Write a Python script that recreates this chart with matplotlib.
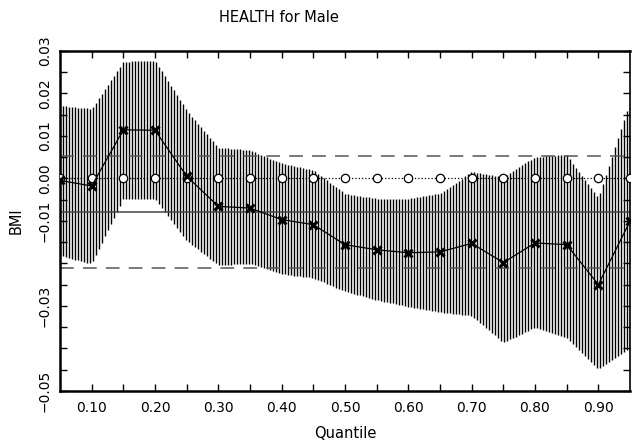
import numpy as np
import matplotlib
matplotlib.use("Agg")
import matplotlib.pyplot as plt
from matplotlib.ticker import FixedLocator

quantiles = [0.05, 0.10, 0.15, 0.20, 0.25, 0.30, 0.35, 0.40, 0.45, 0.50,
             0.55, 0.60, 0.65, 0.70, 0.75, 0.80, 0.85, 0.90, 0.95]
estimate = [-0.0005, -0.0018, 0.0114, 0.0113, 0.0005, -0.0066, -0.0070, -0.0097, -0.0109, -0.0156,
            -0.0168, -0.0175, -0.0173, -0.0153, -0.0198, -0.0152, -0.0156, -0.0250, -0.0101]
upper = [0.0171, 0.0163, 0.0274, 0.0277, 0.0160, 0.0072, 0.0066, 0.0035, 0.0019, -0.0036,
         -0.0048, -0.0048, -0.0036, 0.0015, 0.0003, 0.0050, 0.0055, -0.0047, 0.0180]
lower = [-0.0182, -0.0201, -0.0048, -0.0048, -0.0146, -0.0204, -0.0201, -0.0225, -0.0234, -0.0266,
         -0.0286, -0.0302, -0.0315, -0.0323, -0.0386, -0.0351, -0.0374, -0.0449, -0.0398]
zero_line = [0.0] * len(quantiles)
ols_estimate = -0.0079
ols_upper = 0.0053
ols_lower = -0.0211

xtick_values = [0.10, 0.20, 0.30, 0.40, 0.50, 0.60, 0.70, 0.80, 0.90]
xtick_labels = ["0.10", "0.20", "0.30", "0.40", "0.50", "0.60", "0.70", "0.80", "0.90"]
ytick_values = [0.03, 0.02, 0.01, 0.00, -0.01, -0.03, -0.05]
ytick_labels = ["0.03", "0.02", "0.01", "0.00", "\u22120.01", "\u22120.03", "\u22120.05"]

fig = plt.figure(figsize=(6.44, 4.41), dpi=100)
ax = fig.add_axes([60/644, 1 - 391/441, 570/644, (391 - 50.7)/441])

# hatched confidence band drawn as dense vertical lines
xs = np.linspace(quantiles[0], quantiles[-1], 191)
up_i = np.interp(xs, quantiles, upper)
lo_i = np.interp(xs, quantiles, lower)
ax.vlines(xs, lo_i, up_i, colors="black", linewidth=1.0, zorder=1)

ax.axhline(ols_estimate, color="#444444", linewidth=1.1, zorder=2)
ax.axhline(ols_upper, color="#555555", linewidth=1.1, linestyle=(0, (9, 6)), zorder=2)
ax.axhline(ols_lower, color="#555555", linewidth=1.1, linestyle=(0, (9, 6)), zorder=2)

ax.plot(quantiles, zero_line, linestyle=":", color="black", linewidth=0.9,
        marker="o", markersize=6, markerfacecolor="white", markeredgecolor="black",
        markeredgewidth=0.9, zorder=3)
ax.plot(quantiles, estimate, linestyle="-", color="black", linewidth=0.9,
        marker="x", markersize=6, markeredgewidth=2.2, zorder=4)

ax.set_xlim(0.05, 0.95)
ax.set_ylim(-0.05, 0.03)

ax.xaxis.set_major_locator(FixedLocator(xtick_values))
ax.set_xticklabels(xtick_labels)
ax.xaxis.set_minor_locator(FixedLocator([0.15, 0.25, 0.35, 0.45, 0.55, 0.65, 0.75, 0.85]))
ax.yaxis.set_major_locator(FixedLocator(ytick_values))
ax.set_yticklabels(ytick_labels, rotation=90, va="center")
ax.yaxis.set_minor_locator(FixedLocator([0.025, 0.015, 0.005, -0.005, -0.015, -0.02, -0.025,
                                         -0.035, -0.04, -0.045]))

ax.tick_params(which="both", direction="in", length=5, width=1.0,
               top=True, right=True, labelsize=10, colors="black")
ax.tick_params(axis="y", pad=6)
ax.tick_params(axis="x", pad=7)
for s in ax.spines.values():
    s.set_linewidth(1.8)
ax.spines["right"].set_linewidth(1.2)

ax.set_xlabel("Quantile", fontsize=10.5, labelpad=8)
ax.set_ylabel("BMI", fontsize=10.5, labelpad=10)
fig.text(279/644, 1 - 18/441, "HEALTH for Male", ha="center", va="center", fontsize=10.5)

fig.savefig("out.png", dpi=100)
